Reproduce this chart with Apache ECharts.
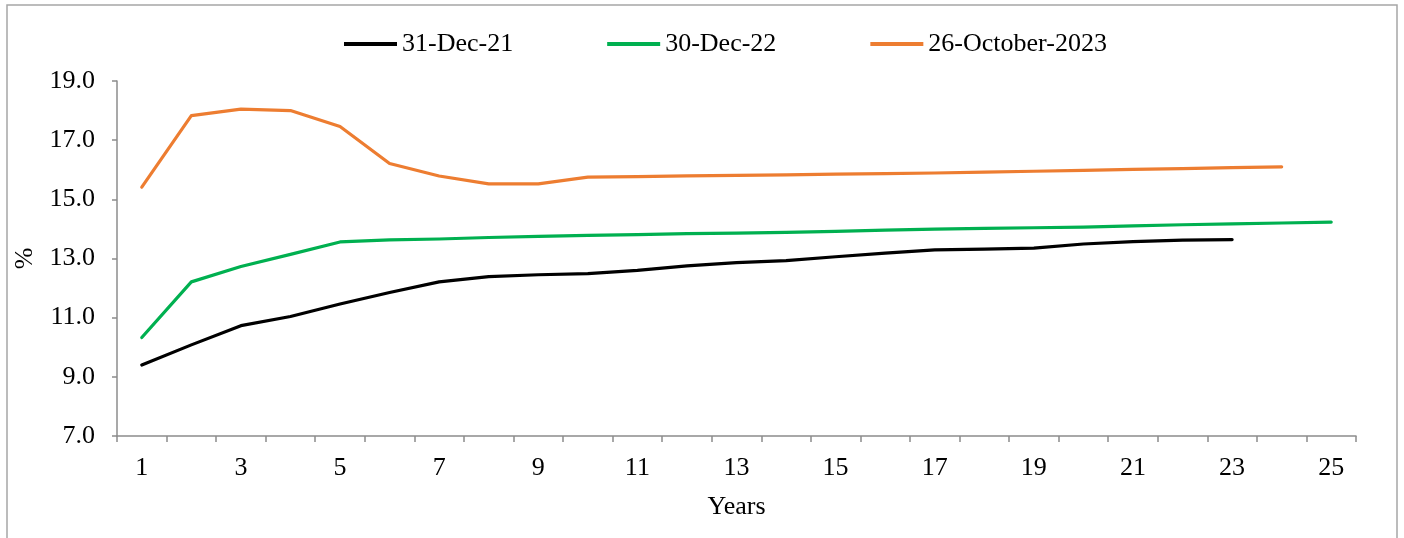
<!DOCTYPE html>
<html>
<head>
<meta charset="utf-8">
<script src="https://cdn.jsdelivr.net/npm/echarts@6/dist/echarts.min.js"></script>
<style>
  html, body { margin: 0; padding: 0; background: #fff; }
  #chart { width: 1404px; height: 538px; }
</style>
</head>
<body>
<div id="chart"></div>
<script>
// Yield curve: tenor in years vs yield (%)
const years = ['1','2','3','4','5','6','7','8','9','10','11','12','13','14','15','16','17','18','19','20','21','22','23','24','25'];

const dec21 = [9.40, 10.08, 10.73, 11.04, 11.46, 11.85, 12.21, 12.39, 12.45, 12.49, 12.60, 12.75, 12.86, 12.93, 13.06, 13.18, 13.29, 13.32, 13.35, 13.49, 13.57, 13.62, 13.64, null, null];
const dec22 = [10.33, 12.21, 12.73, 13.14, 13.56, 13.63, 13.66, 13.71, 13.75, 13.78, 13.81, 13.84, 13.86, 13.88, 13.92, 13.96, 13.99, 14.02, 14.04, 14.06, 14.10, 14.14, 14.17, 14.20, 14.23];
const oct23 = [15.41, 17.83, 18.05, 18.00, 17.46, 16.21, 15.79, 15.52, 15.52, 15.75, 15.77, 15.79, 15.81, 15.83, 15.85, 15.87, 15.89, 15.92, 15.95, 15.98, 16.01, 16.04, 16.07, 16.10, null];

const seriesNames = ['31-Dec-21', '30-Dec-22', '26-October-2023'];
const seriesColors = ['#000000', '#00B050', '#ED7D31'];

const FONT = '"Liberation Serif", "Times New Roman", serif';
const FONT_SIZE = 26;
const AXIS_GREY = '#8c8c8c';

const chart = echarts.init(document.getElementById('chart'), null, { renderer: 'canvas' });

function lineSeries(name, data, color) {
  return {
    name: name,
    type: 'line',
    data: data,
    symbol: 'none',
    smooth: false,
    connectNulls: false,
    lineStyle: { color: color, width: 3.2, cap: 'round', join: 'round' },
    itemStyle: { color: color }
  };
}

chart.setOption({
  backgroundColor: '#ffffff',
  animation: false,
  textStyle: { fontFamily: FONT },
  graphic: [{
    type: 'rect',
    shape: { x: 7, y: 5, width: 1390, height: 545 },
    style: { fill: 'none', stroke: '#a6a6a6', lineWidth: 1.5 },
    silent: true,
    z: -1
  }],
  legend: {
    top: 31,
    left: 344,
    padding: 0,
    icon: 'rect',
    itemWidth: 53,
    itemHeight: 4,
    itemGap: 94,
    textStyle: { fontFamily: FONT, fontSize: FONT_SIZE, color: '#000' },
    data: seriesNames
  },
  grid: { left: 117, right: 48, top: 81, bottom: 102, containLabel: false },
  xAxis: {
    type: 'category',
    data: years,
    boundaryGap: true,
    name: 'Years',
    nameLocation: 'middle',
    nameGap: 58,
    nameTextStyle: { fontFamily: FONT, fontSize: FONT_SIZE, color: '#000' },
    axisLine: { lineStyle: { color: AXIS_GREY, width: 1.5 } },
    axisTick: { show: true, interval: 0, length: 6, lineStyle: { color: AXIS_GREY, width: 1.5 } },
    axisLabel: { interval: 1, margin: 19, fontFamily: FONT, fontSize: FONT_SIZE, color: '#000' },
    splitLine: { show: false }
  },
  yAxis: {
    type: 'value',
    min: 7,
    max: 19,
    interval: 2,
    name: '%',
    nameLocation: 'middle',
    nameRotate: 90,
    nameGap: 72,
    nameTextStyle: { fontFamily: FONT, fontSize: FONT_SIZE, color: '#000' },
    axisLine: { show: true, lineStyle: { color: AXIS_GREY, width: 1.5 } },
    axisTick: { show: true, length: 5, lineStyle: { color: AXIS_GREY, width: 1.5 } },
    axisLabel: {
      margin: 22,
      fontFamily: FONT,
      fontSize: FONT_SIZE,
      color: '#000',
      formatter: function (v) { return v.toFixed(1); }
    },
    splitLine: { show: false }
  },
  series: [
    lineSeries(seriesNames[0], dec21, seriesColors[0]),
    lineSeries(seriesNames[1], dec22, seriesColors[1]),
    lineSeries(seriesNames[2], oct23, seriesColors[2])
  ]
});
</script>
</body>
</html>
